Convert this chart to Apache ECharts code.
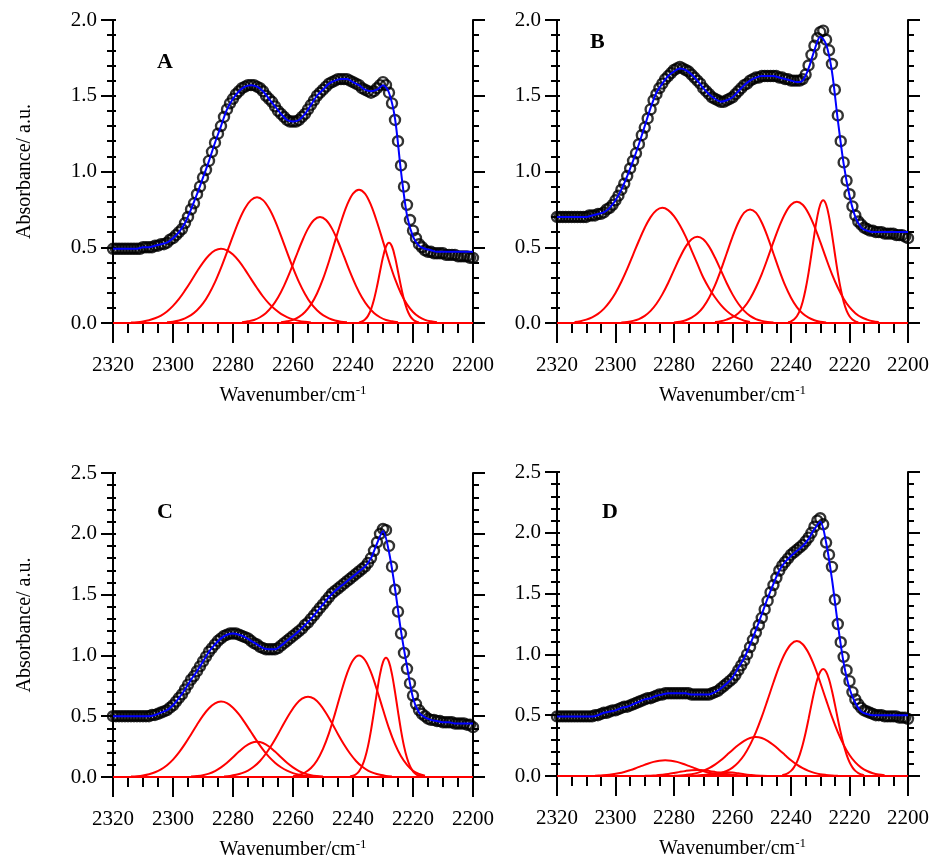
<!DOCTYPE html>
<html>
<head>
<meta charset="utf-8">
<script src="https://cdn.jsdelivr.net/npm/echarts@6/dist/echarts.min.js"></script>
<style>
html,body{margin:0;padding:0;background:#fff;}
#chart{width:932px;height:865px;}
</style>
</head>
<body>
<div id="chart"></div>
<script>
// ---------------- DATA ----------------
const xTicks = [2320, 2300, 2280, 2260, 2240, 2220, 2200];
const yTicksAB = [0.0, 0.5, 1.0, 1.5, 2.0];
const yTicksCD = [0.0, 0.5, 1.0, 1.5, 2.0, 2.5];
const panelLetters = ['A', 'B', 'C', 'D'];

// measured spectra: 2320 -> 2200 cm-1, 1 cm-1 step
const circlesA = [
  0.49,0.49,0.49,0.49,0.49,0.49,0.49,0.49,0.49,0.49,
  0.50,0.50,0.50,0.50,0.51,0.51,0.52,0.52,0.53,0.55,
  0.56,0.58,0.60,0.62,0.66,0.70,0.75,0.79,0.85,0.90,
  0.96,1.01,1.07,1.13,1.19,1.25,1.30,1.36,1.41,1.45,
  1.48,1.51,1.53,1.55,1.56,1.57,1.57,1.57,1.56,1.55,
  1.53,1.50,1.48,1.46,1.43,1.40,1.38,1.36,1.34,1.33,
  1.33,1.33,1.34,1.36,1.38,1.41,1.44,1.47,1.50,1.52,
  1.54,1.56,1.58,1.59,1.60,1.61,1.61,1.61,1.61,1.60,
  1.59,1.58,1.57,1.55,1.54,1.53,1.52,1.53,1.55,1.57,
  1.59,1.57,1.52,1.45,1.34,1.20,1.04,0.90,0.78,0.68,
  0.61,0.56,0.52,0.50,0.48,0.47,0.47,0.46,0.46,0.46,
  0.46,0.45,0.45,0.45,0.45,0.44,0.44,0.44,0.44,0.43,
  0.43];
const circlesB = [
  0.70,0.70,0.70,0.70,0.70,0.70,0.70,0.70,0.70,0.70,
  0.70,0.71,0.71,0.71,0.72,0.72,0.73,0.75,0.76,0.78,
  0.81,0.84,0.88,0.92,0.97,1.02,1.07,1.12,1.18,1.24,
  1.29,1.35,1.41,1.47,1.51,1.55,1.58,1.61,1.63,1.65,
  1.67,1.68,1.69,1.68,1.67,1.66,1.64,1.62,1.60,1.58,
  1.55,1.53,1.51,1.49,1.48,1.47,1.46,1.46,1.47,1.48,
  1.49,1.51,1.53,1.55,1.57,1.58,1.60,1.61,1.62,1.62,
  1.63,1.63,1.63,1.63,1.63,1.63,1.62,1.62,1.61,1.61,
  1.60,1.60,1.60,1.60,1.61,1.64,1.70,1.77,1.83,1.88,
  1.92,1.93,1.87,1.80,1.71,1.54,1.37,1.20,1.06,0.94,
  0.85,0.77,0.71,0.67,0.65,0.63,0.62,0.61,0.61,0.60,
  0.60,0.60,0.59,0.59,0.59,0.59,0.58,0.58,0.58,0.57,
  0.56];
const circlesC = [
  0.50,0.50,0.50,0.50,0.50,0.50,0.50,0.50,0.50,0.50,
  0.50,0.50,0.50,0.51,0.51,0.52,0.53,0.54,0.55,0.57,
  0.59,0.62,0.65,0.68,0.72,0.76,0.80,0.83,0.87,0.91,
  0.95,0.99,1.03,1.06,1.09,1.12,1.14,1.16,1.17,1.18,
  1.18,1.18,1.17,1.16,1.15,1.14,1.12,1.10,1.09,1.07,
  1.06,1.05,1.05,1.05,1.05,1.06,1.08,1.10,1.12,1.14,
  1.16,1.18,1.20,1.22,1.25,1.27,1.30,1.33,1.36,1.39,
  1.42,1.45,1.48,1.51,1.53,1.55,1.57,1.59,1.61,1.63,
  1.65,1.67,1.69,1.71,1.73,1.76,1.80,1.86,1.93,2.00,
  2.04,2.03,1.90,1.73,1.54,1.36,1.18,1.02,0.89,0.77,
  0.67,0.60,0.55,0.52,0.50,0.48,0.47,0.47,0.46,0.46,
  0.45,0.45,0.45,0.45,0.44,0.44,0.44,0.44,0.43,0.43,
  0.41];
const circlesD = [
  0.49,0.49,0.49,0.49,0.49,0.49,0.49,0.49,0.49,0.49,
  0.49,0.49,0.49,0.50,0.50,0.51,0.52,0.52,0.53,0.54,
  0.54,0.55,0.56,0.57,0.57,0.58,0.59,0.60,0.61,0.62,
  0.63,0.64,0.64,0.65,0.66,0.67,0.67,0.68,0.68,0.68,
  0.68,0.68,0.68,0.68,0.68,0.68,0.67,0.67,0.67,0.67,
  0.67,0.67,0.67,0.68,0.69,0.70,0.72,0.74,0.76,0.78,
  0.80,0.83,0.87,0.91,0.95,1.00,1.06,1.12,1.18,1.24,
  1.30,1.37,1.44,1.51,1.57,1.63,1.69,1.73,1.76,1.79,
  1.82,1.84,1.86,1.88,1.90,1.93,1.96,2.00,2.05,2.10,
  2.12,2.07,1.92,1.82,1.72,1.45,1.25,1.10,0.98,0.87,
  0.78,0.69,0.63,0.59,0.56,0.54,0.53,0.52,0.51,0.50,
  0.50,0.50,0.49,0.49,0.49,0.49,0.49,0.48,0.48,0.48,
  0.47];

// fitted envelopes: 2320 -> 2200 cm-1, 2 cm-1 step
const fitA = [
  0.49,0.49,0.49,0.49,0.49,0.50,0.50,0.51,0.52,0.53,
  0.56,0.60,0.66,0.75,0.85,0.96,1.07,1.19,1.30,1.41,
  1.48,1.53,1.56,1.57,1.56,1.53,1.48,1.43,1.38,1.34,
  1.33,1.34,1.38,1.44,1.50,1.54,1.58,1.60,1.61,1.61,
  1.59,1.57,1.54,1.53,1.54,1.57,1.52,1.35,1.00,0.71,
  0.57,0.51,0.49,0.48,0.47,0.47,0.47,0.47,0.47,0.47,
  0.47];
const fitB = [
  0.70,0.70,0.70,0.70,0.70,0.70,0.71,0.72,0.73,0.76,
  0.81,0.88,0.97,1.07,1.18,1.30,1.42,1.52,1.58,1.63,
  1.66,1.68,1.67,1.64,1.60,1.55,1.51,1.48,1.46,1.47,
  1.49,1.53,1.57,1.60,1.62,1.63,1.63,1.63,1.62,1.61,
  1.60,1.59,1.60,1.68,1.80,1.89,1.84,1.66,1.34,1.05,
  0.84,0.70,0.63,0.61,0.60,0.60,0.60,0.60,0.60,0.60,
  0.60];
const fitC = [
  0.50,0.50,0.50,0.50,0.50,0.50,0.50,0.51,0.53,0.55,
  0.59,0.65,0.72,0.80,0.87,0.95,1.03,1.09,1.14,1.17,
  1.18,1.17,1.15,1.12,1.09,1.06,1.05,1.05,1.08,1.12,
  1.16,1.20,1.25,1.30,1.36,1.42,1.48,1.53,1.57,1.61,
  1.65,1.69,1.73,1.80,1.92,2.02,1.85,1.55,1.20,0.91,
  0.65,0.53,0.49,0.47,0.46,0.45,0.45,0.44,0.44,0.44,
  0.44];
const fitD = [
  0.49,0.49,0.49,0.49,0.49,0.49,0.49,0.50,0.52,0.53,
  0.54,0.56,0.57,0.59,0.61,0.63,0.64,0.66,0.67,0.68,
  0.68,0.68,0.68,0.67,0.67,0.67,0.67,0.69,0.72,0.76,
  0.81,0.89,0.97,1.08,1.20,1.33,1.46,1.58,1.69,1.76,
  1.81,1.85,1.89,1.95,2.03,2.09,1.92,1.62,1.25,0.93,
  0.72,0.60,0.53,0.51,0.50,0.50,0.50,0.50,0.50,0.50,
  0.50];

// fitted component bands (first wavenumber, step, values)
const bandStartsA = [2314, 2302, 2277, 2264, 2238];
const bandStepsA  = [2, 2, 2, 2, 1];
const bandA1 = [0.003,0.005,0.010,0.018,0.031,0.049,0.076,0.113,0.159,0.215,0.276,0.340,0.399,0.447,0.479,0.490,0.480,0.452,0.408,0.352,0.291,0.231,0.175,0.128,0.090,0.060,0.039,0.024,0.014,0.008,0.004];
const bandA2 = [0.005,0.009,0.017,0.031,0.052,0.084,0.129,0.192,0.270,0.364,0.468,0.575,0.676,0.757,0.811,0.830,0.811,0.757,0.676,0.575,0.468,0.364,0.270,0.192,0.129,0.084,0.052,0.031,0.017,0.009,0.005];
const bandA3 = [0.005,0.011,0.020,0.038,0.066,0.109,0.168,0.245,0.337,0.439,0.538,0.623,0.680,0.700,0.680,0.623,0.538,0.439,0.337,0.245,0.168,0.109,0.066,0.038,0.020,0.011,0.005];
const bandA4 = [0.005,0.011,0.021,0.040,0.073,0.123,0.195,0.291,0.408,0.539,0.667,0.778,0.854,0.880,0.854,0.778,0.667,0.539,0.408,0.291,0.195,0.123,0.073,0.040,0.021,0.011,0.005];
const bandA5 = [0.004,0.010,0.023,0.047,0.090,0.155,0.241,0.340,0.435,0.505,0.530,0.505,0.435,0.340,0.241,0.155,0.090,0.047,0.023,0.010,0.004];

const bandStartsB = [2314, 2298, 2280, 2266, 2241];
const bandStepsB  = [2, 2, 2, 2, 1];
const bandB1 = [0.007,0.012,0.022,0.037,0.060,0.093,0.139,0.198,0.272,0.357,0.450,0.543,0.629,0.699,0.744,0.760,0.745,0.705,0.645,0.570,0.480,0.390,0.300,0.230,0.170,0.120,0.080,0.050,0.030,0.015,0.007];
const bandB2 = [0.003,0.007,0.014,0.026,0.047,0.080,0.127,0.189,0.264,0.349,0.432,0.504,0.553,0.570,0.553,0.504,0.432,0.349,0.264,0.189,0.127,0.080,0.047,0.026,0.014,0.007,0.003];
const bandB3 = [0.004,0.009,0.018,0.035,0.062,0.105,0.167,0.248,0.348,0.459,0.569,0.663,0.728,0.750,0.728,0.663,0.569,0.459,0.348,0.248,0.167,0.105,0.062,0.035,0.018,0.009,0.004];
const bandB4 = [0.006,0.011,0.022,0.038,0.065,0.104,0.160,0.234,0.323,0.426,0.535,0.638,0.723,0.780,0.800,0.780,0.723,0.638,0.535,0.426,0.323,0.234,0.160,0.104,0.065,0.038,0.022,0.011,0.006];
const bandB5 = [0.005,0.011,0.023,0.045,0.082,0.140,0.224,0.331,0.457,0.587,0.702,0.782,0.810,0.782,0.702,0.587,0.457,0.331,0.224,0.140,0.082,0.045,0.023,0.011,0.005];

const bandStartsC = [2314, 2294, 2283, 2260, 2241];
const bandStepsC  = [2, 2, 2, 2, 1];
const bandC1 = [0.004,0.007,0.013,0.023,0.039,0.063,0.097,0.143,0.202,0.272,0.350,0.430,0.505,0.565,0.606,0.620,0.608,0.570,0.515,0.445,0.370,0.295,0.225,0.165,0.118,0.080,0.052,0.032,0.019,0.010,0.005];
const bandC2 = [0.004,0.008,0.015,0.028,0.049,0.079,0.117,0.162,0.209,0.251,0.280,0.290,0.280,0.251,0.209,0.162,0.117,0.079,0.049,0.028,0.015,0.008,0.004];
const bandC3 = [0.005,0.009,0.018,0.032,0.053,0.086,0.132,0.193,0.267,0.352,0.442,0.526,0.597,0.644,0.660,0.644,0.597,0.526,0.442,0.352,0.267,0.193,0.132,0.086,0.053,0.032,0.018,0.009,0.005];
const bandC4 = [0.007,0.017,0.037,0.074,0.136,0.231,0.361,0.521,0.693,0.850,0.960,1.000,0.962,0.860,0.715,0.555,0.400,0.270,0.170,0.100,0.052,0.025,0.010];
const bandC5 = [0.004,0.010,0.023,0.047,0.089,0.156,0.254,0.384,0.538,0.700,0.844,0.944,0.980,0.944,0.844,0.700,0.538,0.384,0.254,0.156,0.089,0.047,0.023,0.010,0.004];

const bandStartsD = [2307, 2290, 2276, 2280, 2268, 2243];
const bandStepsD  = [2, 2, 2, 2, 2, 1];
const bandD1 = [0.002,0.005,0.008,0.014,0.022,0.033,0.048,0.065,0.083,0.101,0.116,0.126,0.130,0.126,0.116,0.101,0.083,0.065,0.048,0.033,0.022,0.014,0.008,0.005,0.002];
const bandD2 = [0.002,0.003,0.006,0.011,0.017,0.025,0.034,0.042,0.048,0.050,0.048,0.042,0.034,0.025,0.017,0.011,0.006,0.003,0.002];
const bandD3 = [0.001,0.002,0.004,0.009,0.015,0.022,0.028,0.030,0.028,0.022,0.015,0.009,0.004,0.002,0.001];
const bandD4 = [0.002,0.005,0.009,0.015,0.026,0.042,0.064,0.093,0.129,0.171,0.214,0.255,0.289,0.312,0.320,0.312,0.289,0.255,0.214,0.171,0.129,0.093,0.064,0.042,0.026,0.015,0.009,0.005,0.002];
const bandD5 = [0.006,0.012,0.023,0.041,0.069,0.112,0.173,0.256,0.361,0.486,0.626,0.769,0.904,1.012,1.084,1.110,1.084,1.012,0.904,0.769,0.626,0.486,0.361,0.256,0.173,0.112,0.069,0.041,0.023,0.012,0.006];
const bandD6 = [0.006,0.012,0.024,0.042,0.071,0.114,0.176,0.257,0.356,0.469,0.589,0.701,0.796,0.858,0.880,0.858,0.796,0.701,0.589,0.469,0.356,0.257,0.176,0.114,0.071,0.042,0.024,0.012,0.006];

// ---------------- BUILD ----------------
const FONT = "'Liberation Serif','Times New Roman',serif";
const BLACK = '#000000';

const panels = [
  {circles: circlesA, fit: fitA, bands: [bandA1,bandA2,bandA3,bandA4,bandA5], starts: bandStartsA, steps: bandStepsA,
   yTicks: yTicksAB, grid: {left: 113, top: 20, width: 360, height: 303}, letterPos: {left: 157, top: 51}, yName: true},
  {circles: circlesB, fit: fitB, bands: [bandB1,bandB2,bandB3,bandB4,bandB5], starts: bandStartsB, steps: bandStepsB,
   yTicks: yTicksAB, grid: {left: 557, top: 20, width: 351, height: 303}, letterPos: {left: 590, top: 31}, yName: false},
  {circles: circlesC, fit: fitC, bands: [bandC1,bandC2,bandC3,bandC4,bandC5], starts: bandStartsC, steps: bandStepsC,
   yTicks: yTicksCD, grid: {left: 113, top: 473, width: 360, height: 304}, letterPos: {left: 157, top: 501}, yName: true},
  {circles: circlesD, fit: fitD, bands: [bandD1,bandD2,bandD3,bandD4,bandD5,bandD6], starts: bandStartsD, steps: bandStepsD,
   yTicks: yTicksCD, grid: {left: 557, top: 472, width: 351, height: 304}, letterPos: {left: 602, top: 501}, yName: false}
];

function seriesXY(start, step, values) {
  return values.map((v, i) => [start - i * step, v]);
}

const option = {
  animation: false,
  backgroundColor: '#ffffff',
  title: [], grid: [], xAxis: [], yAxis: [], series: []
};

const lineBlack = {color: BLACK, width: 2};

panels.forEach((p, i) => {
  option.grid.push(Object.assign({containLabel: false}, p.grid));
  option.title.push({
    text: panelLetters[i], left: p.letterPos.left, top: p.letterPos.top, padding: 0,
    textStyle: {fontFamily: FONT, fontWeight: 'bold', fontSize: 22, color: BLACK}
  });
  option.xAxis.push({
    type: 'value', gridIndex: i, min: xTicks[xTicks.length - 1], max: xTicks[0], interval: xTicks[0] - xTicks[1],
    inverse: true, position: 'bottom',
    axisLine: {show: true, onZero: false, lineStyle: lineBlack},
    axisTick: {show: true, length: 20, lineStyle: lineBlack},
    minorTick: {show: true, splitNumber: 4, length: 10, lineStyle: lineBlack},
    splitLine: {show: false},
    axisLabel: {fontFamily: FONT, fontSize: 21, color: BLACK, margin: 32, formatter: v => String(v)},
    name: '{n|Wavenumber/cm}{s|-1}', nameLocation: 'middle', nameGap: 61,
    nameTextStyle: {
      rich: {
        n: {fontFamily: FONT, fontSize: 20, color: BLACK, lineHeight: 24},
        s: {fontFamily: FONT, fontSize: 13, color: BLACK, lineHeight: 14, verticalAlign: 'top'}
      }
    }
  });
  const yMax = p.yTicks[p.yTicks.length - 1];
  const yInt = p.yTicks[1] - p.yTicks[0];
  const base = i * 3;
  option.yAxis.push({
    type: 'value', gridIndex: i, min: p.yTicks[0], max: yMax, interval: yInt, position: 'left',
    axisLine: {show: true, onZero: false, lineStyle: lineBlack},
    axisTick: {show: true, length: 12, lineStyle: lineBlack},
    minorTick: {show: true, splitNumber: 5, length: 6, lineStyle: lineBlack},
    splitLine: {show: false},
    axisLabel: {fontFamily: FONT, fontSize: 21, color: BLACK, margin: 16, formatter: v => v.toFixed(1)},
    name: p.yName ? 'Absorbance/ a.u.' : '', nameLocation: 'middle', nameGap: 78, nameRotate: 90,
    nameTextStyle: {fontFamily: FONT, fontSize: 20, color: BLACK}
  });
  option.yAxis.push({
    type: 'value', gridIndex: i, min: p.yTicks[0], max: yMax, interval: yInt, position: 'left',
    axisLine: {show: false},
    axisTick: {show: true, inside: true, length: 3, lineStyle: lineBlack},
    minorTick: {show: true, splitNumber: 5, length: 3, lineStyle: lineBlack},
    splitLine: {show: false}, axisLabel: {show: false}
  });
  option.yAxis.push({
    type: 'value', gridIndex: i, min: p.yTicks[0], max: yMax, interval: yInt, position: 'right',
    axisLine: {show: true, onZero: false, lineStyle: lineBlack},
    axisTick: {show: true, length: 12, lineStyle: lineBlack},
    minorTick: {show: true, splitNumber: 5, length: 6, lineStyle: lineBlack},
    splitLine: {show: false}, axisLabel: {show: false}
  });

  option.series.push({
    type: 'line', xAxisIndex: i, yAxisIndex: base, data: [[xTicks[0], 0], [xTicks[xTicks.length - 1], 0]],
    symbol: 'none', clip: false, lineStyle: {color: '#ff0000', width: 2}, z: 2, silent: true
  });
  p.bands.forEach((b, k) => {
    option.series.push({
      type: 'line', xAxisIndex: i, yAxisIndex: base, data: seriesXY(p.starts[k], p.steps[k], b),
      symbol: 'none', smooth: 0.35, clip: false, lineStyle: {color: '#ff0000', width: 2}, z: 2, silent: true
    });
  });
  option.series.push({
    type: 'scatter', xAxisIndex: i, yAxisIndex: base, data: seriesXY(xTicks[0], 1, p.circles),
    symbol: 'circle', symbolSize: 10, clip: false,
    itemStyle: {color: 'rgba(255,255,255,0)', borderColor: BLACK, borderWidth: 2.4}, z: 3, silent: true
  });
  option.series.push({
    type: 'line', xAxisIndex: i, yAxisIndex: base, data: seriesXY(xTicks[0], 2, p.fit),
    symbol: 'none', smooth: 0.3, clip: false, lineStyle: {color: '#0000ff', width: 2}, z: 4, silent: true
  });
});

const chart = echarts.init(document.getElementById('chart'), null, {renderer: 'canvas'});
chart.setOption(option);
</script>
</body>
</html>
